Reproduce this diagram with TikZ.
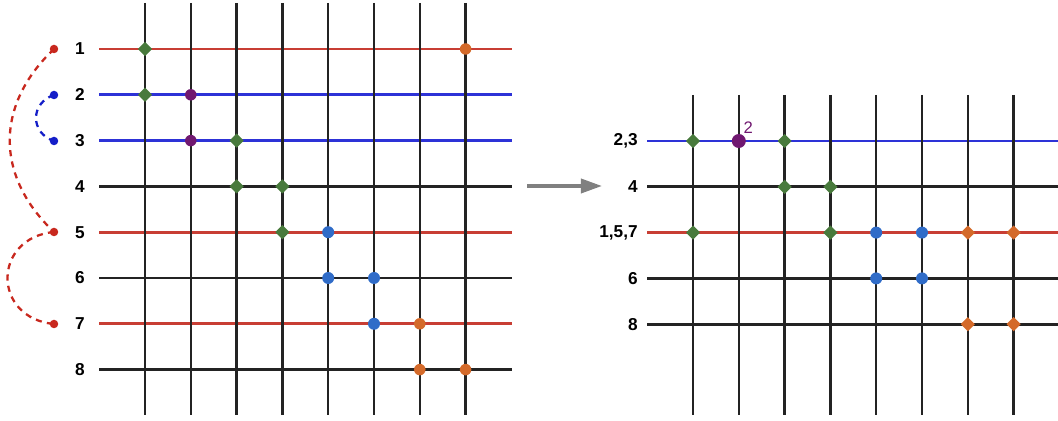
\documentclass[tikz,border=0pt]{standalone}
\usepackage{fontspec}
\setmainfont{Liberation Sans}
\usetikzlibrary{shapes.geometric, arrows.meta}

\definecolor{lnred}{RGB}{200,62,52}
\definecolor{lnblue}{RGB}{45,50,215}
\definecolor{gridblack}{RGB}{35,35,35}
\definecolor{mkgreen}{RGB}{72,122,60}
\definecolor{mkpurple}{RGB}{112,24,112}
\definecolor{mkblue}{RGB}{48,108,200}
\definecolor{mkorange}{RGB}{212,106,42}
\definecolor{arcred}{RGB}{200,40,30}
\definecolor{arcblue}{RGB}{20,30,200}
\definecolor{arrgray}{RGB}{128,128,128}

\begin{document}
\begin{tikzpicture}[
    x=0.02cm, y=-0.02cm,
    hline/.style={line width=1.5pt},
    vline/.style={line width=1.4pt, gridblack},
    rowlbl/.style={font=\fontsize{9.8}{11}\selectfont\bfseries, inner sep=0pt},
    gdia/.style={diamond, fill=mkgreen, inner sep=0pt, minimum size=0.29cm},
    odia/.style={diamond, fill=mkorange, inner sep=0pt, minimum size=0.29cm},
    pdot/.style={circle, fill=mkpurple, inner sep=0pt, minimum size=0.23cm},
    bdot/.style={circle, fill=mkblue, inner sep=0pt, minimum size=0.24cm},
    odot/.style={circle, fill=mkorange, inner sep=0pt, minimum size=0.23cm},
    adot/.style={circle, fill=#1, inner sep=0pt, minimum size=0.17cm},
    swap/.style={dash pattern=on 3.5pt off 3pt, line width=1.3pt}
  ]
  \useasboundingbox (0,0) rectangle (1058,421);

  % Left grid: rows
  \foreach \j/\col in {1/lnred,2/lnblue,3/lnblue,4/gridblack,5/lnred,6/gridblack,7/lnred,8/gridblack} {
    \coordinate (lrW\j) at (99,{49+45.8*(\j-1)});
    \coordinate (lrE\j) at (512,{49+45.8*(\j-1)});
    \draw[hline, \col] (lrW\j) -- (lrE\j);
    \node[rowlbl] (lbl\j) at (80,{49+45.8*(\j-1)}) {\j};
  }
  % Left grid: columns
  \foreach \i in {1,...,8} {
    \coordinate (lcT\i) at ({145+45.8*(\i-1)},3);
    \coordinate (lcB\i) at ({145+45.8*(\i-1)},415);
    \draw[vline] (lcT\i) -- (lcB\i);
  }
  % Left markers
  \foreach \r/\c/\s in {1/1/gdia, 1/8/odot, 2/1/gdia, 2/2/pdot, 3/2/pdot, 3/3/gdia,
                        4/3/gdia, 4/4/gdia, 5/4/gdia, 5/5/bdot, 6/5/bdot, 6/6/bdot,
                        7/6/bdot, 7/7/odot, 8/7/odot, 8/8/odot}
    \node[\s] (lm\r-\c) at (lcT\c |- lrW\r) {};

  % Swap arcs
  \node[adot=arcred] (a1) at (54,49) {};
  \node[adot=arcblue] (a2) at (54,95) {};
  \node[adot=arcblue] (a3) at (54,141) {};
  \node[adot=arcred] (a5) at (54,232) {};
  \node[adot=arcred] (a7) at (54,324) {};
  \draw[swap, arcred] (a1.center) .. controls (-5,105) and (-5,176) .. (a5.center);
  \draw[swap, arcred] (a5.center) .. controls (-8,238) and (-8,318) .. (a7.center);
  \draw[swap, arcblue] (a2.center) .. controls (30,103) and (30,133) .. (a3.center);

  % Arrow
  \coordinate (arrS) at (527,186);
  \coordinate (arrE) at (602,186);
  \draw[arrgray, line width=2pt, -{Triangle[length=12pt, width=8pt]}] (arrS) -- (arrE);

  % Right grid: rows
  \foreach \k/\txt/\col in {1/{2,3}/lnblue, 2/4/gridblack, 3/{1,5,7}/lnred, 4/6/gridblack, 5/8/gridblack} {
    \coordinate (rrW\k) at (647,{141+45.8*(\k-1)});
    \coordinate (rrE\k) at (1058,{141+45.8*(\k-1)});
    \draw[hline, \col] (rrW\k) -- (rrE\k);
    \node[rowlbl, anchor=east] (rlbl\k) at (638,{141+45.8*(\k-1)}) {\txt};
  }
  % Right grid: columns
  \foreach \i in {1,...,8} {
    \coordinate (rcT\i) at ({693+45.8*(\i-1)},95);
    \coordinate (rcB\i) at ({693+45.8*(\i-1)},415);
    \draw[vline] (rcT\i) -- (rcB\i);
  }
  % Right markers
  \foreach \r/\c/\s in {1/1/gdia, 1/3/gdia, 2/3/gdia, 2/4/gdia,
                        3/1/gdia, 3/4/gdia, 3/5/bdot, 3/6/bdot, 3/7/odia, 3/8/odia,
                        4/5/bdot, 4/6/bdot, 5/7/odia, 5/8/odia}
    \node[\s] (rm\r-\c) at (rcT\c |- rrW\r) {};
  \node[pdot, minimum size=0.28cm,
        label={[text=mkpurple, font=\fontsize{9.5}{11}\selectfont, inner sep=0.5pt]60:2}]
    (rm1-2) at (rcT2 |- rrW1) {};
\end{tikzpicture}
\end{document}
